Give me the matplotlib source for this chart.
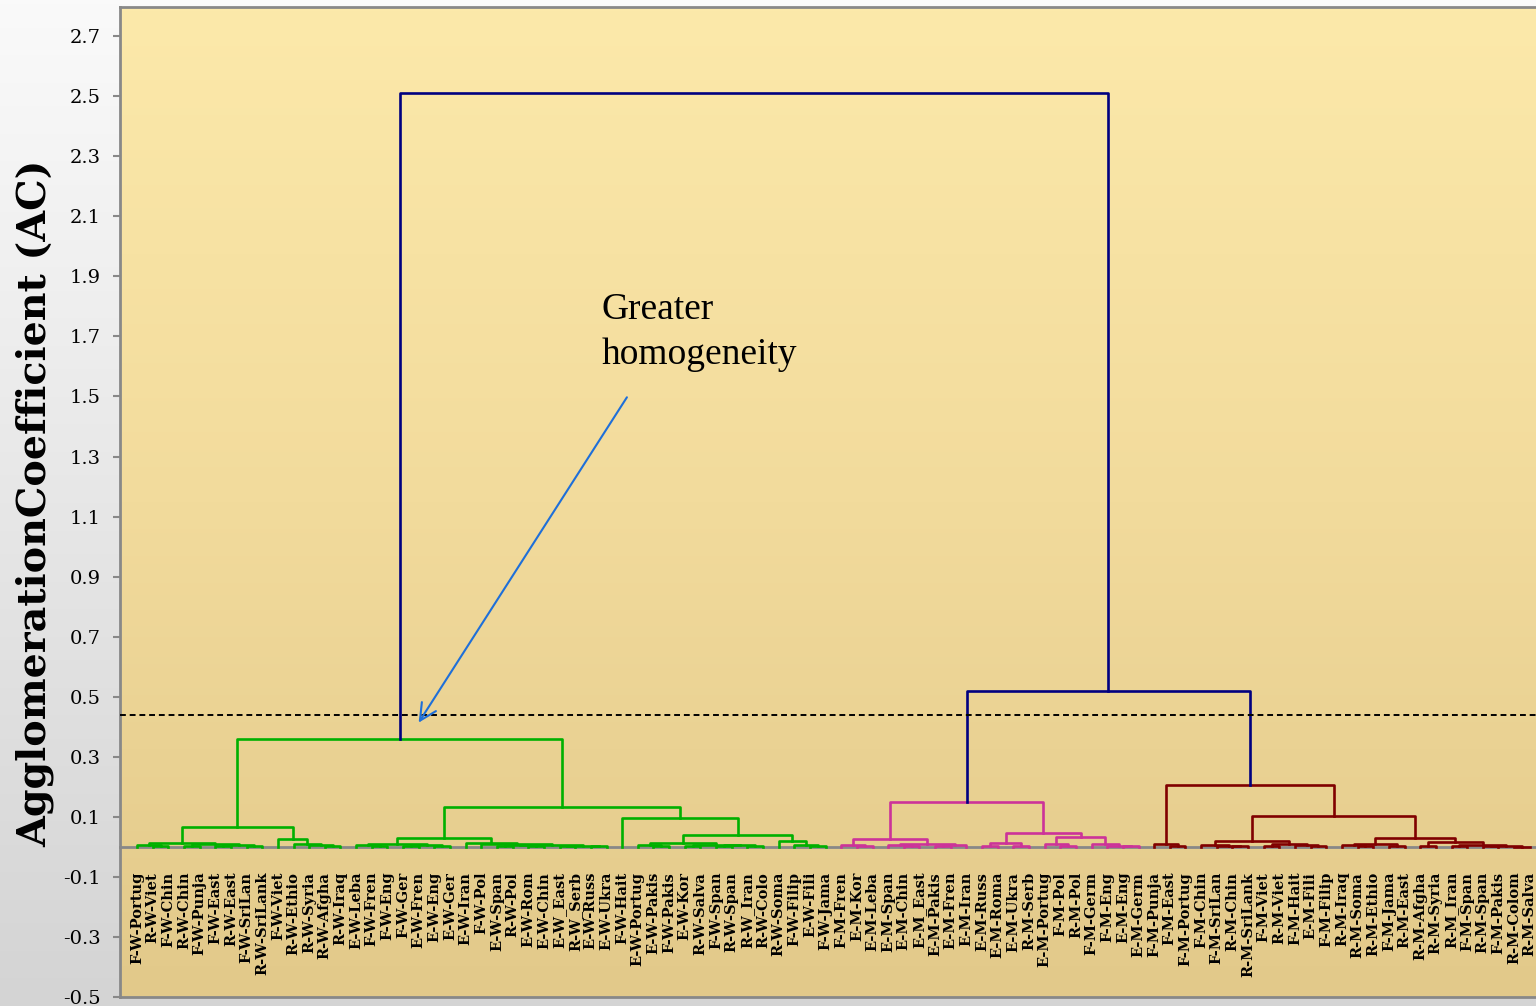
import numpy as np
import matplotlib.pyplot as plt
from matplotlib.colors import LinearSegmentedColormap

# leaf labels, left to right
leaves = ['F-W-Portug', 'R-W-Viet', 'F-W-Chin', 'R-W-Chin', 'F-W-Punja', 'F-W-East', 'R-W-East',
          'F-W-SriLan', 'R-W-SriLank', 'F-W-Viet', 'R-W-Ethio', 'R-W-Syria', 'R-W-Afgha', 'R-W-Iraq',
          'E-W-Leba', 'F-W-Fren', 'F-W-Eng', 'F-W-Ger', 'E-W-Fren', 'E-W-Eng', 'E-W-Ger', 'E-W-Iran',
          'F-W-Pol', 'E-W-Span', 'R-W-Pol', 'E-W-Rom', 'E-W-Chin', 'E-W_East', 'R-W_Serb', 'E-W-Russ',
          'E-W-Ukra', 'F-W-Hait', 'E-W-Portug', 'E-W-Pakis', 'F-W-Pakis', 'E-W-Kor', 'R-W-Salva',
          'F-W-Span', 'R-W-Span', 'R-W_Iran', 'R-W-Colo', 'R-W-Soma', 'F-W-Filip', 'E-W-Fili',
          'F-W-Jama', 'F-M-Fren', 'E-M-Kor', 'E-M-Leba', 'E-M-Span', 'E-M-Chin', 'E-M_East',
          'E-M-Pakis', 'E-M-Fren', 'E-M-Iran', 'E-M-Russ', 'E-M-Roma', 'E-M-Ukra', 'R-M-Serb',
          'E-M-Portug', 'F-M-Pol', 'R-M-Pol', 'F-M-Germ', 'F-M-Eng', 'E-M-Eng', 'E-M-Germ',
          'F-M-Punja', 'F-M-East', 'F-M-Portug', 'F-M-Chin', 'F-M-SriLan', 'R-M-Chin', 'R-M-SriLank',
          'F-M-Viet', 'R-M-Viet', 'F-M-Hait', 'E-M-Fili', 'F-M-Filip', 'R-M-Iraq', 'R-M-Soma',
          'R-M-Ethio', 'F-M-Jama', 'R-M-East', 'R-M-Afgha', 'R-M-Syria', 'R-M_Iran', 'F-M-Span',
          'R-M-Span', 'F-M-Pakis', 'R-M-Colom', 'R-M-Salva']

# merges: [left, right, height], ints are leaf indices
green_left = [[[0, [1, 2, 0.003], 0.007],
               [[3, 4, 0.004], [[5, 6, 0.002], [7, 8, 0.004], 0.006], 0.009], 0.013],
              [9, [10, [11, [12, 13, 0.002], 0.005], 0.009], 0.026], 0.066]
green_right = [[[[14, [15, 16, 0.002], 0.005], [[17, 18, 0.003], [19, 20, 0.002], 0.006], 0.010],
                [21, [22, [[[23, 24, 0.002], [25, 26, 0.003], 0.005],
                           [[27, 28, 0.002], [29, 30, 0.003], 0.004], 0.006], 0.009], 0.013], 0.030],
               [31, [[[32, [33, 34, 0.002], 0.005],
                      [[35, 36, 0.003], [[37, 38, 0.002], [39, 40, 0.003], 0.005], 0.007], 0.013],
                     [41, [42, [43, 44, 0.002], 0.005], 0.018], 0.039], 0.096], 0.133]
green = [green_left, green_right, 0.36]

pink = [[[45, [46, 47, 0.002], 0.006],
         [[48, [49, 50, 0.002], 0.005], [[51, 52, 0.003], 53, 0.006], 0.009], 0.026],
        [[[54, 55, 0.004], [56, 57, 0.003], 0.013],
         [[58, [59, 60, 0.003], 0.008], [61, [62, [63, 64, 0.002], 0.004], 0.009], 0.033], 0.047], 0.149]

dark_red = [[65, [66, 67, 0.003], 0.010],
            [[[68, [69, [70, 71, 0.002], 0.004], 0.006],
              [[72, 73, 0.003], [74, [75, 76, 0.002], 0.005], 0.008], 0.019],
             [[[77, [78, 79, 0.002], 0.005], [80, 81, 0.003], 0.010],
              [[82, 83, 0.004], [[84, 85, 0.002], [[86, 87, 0.003], [88, 89, 0.001], 0.004], 0.006], 0.015],
              0.031], 0.104], 0.206]

tree = [green, [pink, dark_red, 0.52], 2.51]

cluster_colors = ['#00B000', '#CC3399', '#800000']
top_color = '#000080'
color_threshold = 0.44

fig = plt.figure(figsize=(15.36, 10.06), dpi=100)

# grey figure background
bg = fig.add_axes([0, 0, 1, 1], zorder=-10)
bg.imshow(np.linspace(0, 1, 256).reshape(-1, 1),
          cmap=LinearSegmentedColormap.from_list('g', ['#FAFAFA', '#D4D4D4']),
          aspect='auto', extent=[0, 1, 0, 1], origin='upper')
bg.axis('off')

ax = fig.add_axes([120 / 1536, 9 / 1006, 1416 / 1536, 990 / 1006])
ax.imshow(np.linspace(0, 1, 256).reshape(-1, 1),
          cmap=LinearSegmentedColormap.from_list('y', ['#FCE9AA', '#F2DB9C', '#E2C98A']),
          aspect='auto', extent=[0, 1, 0, 1], transform=ax.transAxes, origin='upper', zorder=0)

color_idx = [0]


def draw(node, color=None):
    if isinstance(node, int):
        return node, 0.0
    left, right, h = node
    if color is None and h < color_threshold:
        color = cluster_colors[color_idx[0]]
        color_idx[0] += 1
    xl, hl = draw(left, color)
    xr, hr = draw(right, color)
    c = color if color is not None else top_color
    ax.plot([xl, xl, xr, xr], [hl, h, h, hr], color=c, lw=1.9, zorder=3)
    return (xl + xr) / 2, h


draw(tree)

ax.axhline(color_threshold, color='black', ls=(0, (3, 2)), lw=1.4, zorder=4)

ax.annotate('', xy=(17.9, 0.406), xytext=(31.4, 1.505),
            arrowprops=dict(arrowstyle='->', color='#1E6FD9', lw=1.5, mutation_scale=30), zorder=5)
ax.text(29.7, 1.847, 'Greater\nhomogeneity', fontsize=27, family='Liberation Serif',
        va='top', ha='left', linespacing=1.4)

ax.set_xlim(-1.09, 89.4)
ax.set_ylim(-0.5, 2.797)

# category axis crosses at zero
ax.spines['bottom'].set_position(('data', 0))
ax.spines['bottom'].set_color('#888888')
ax.spines['bottom'].set_linewidth(2)
ax.spines['bottom'].set_zorder(2)
ax.set_xticks(range(len(leaves)))
ax.set_xticklabels(leaves, rotation=90, family='DejaVu Serif', fontweight='bold', fontsize=10.5)
ax.tick_params(axis='x', length=0, pad=18)

yt = np.round(np.arange(-0.5, 2.71, 0.2), 1)
ax.set_yticks(yt)
ax.set_yticklabels([f'{v:.1f}' for v in yt], family='DejaVu Serif', fontsize=14)
ax.tick_params(axis='y', direction='out', length=5, width=1.5, color='#888888', pad=9)

ax.spines['left'].set_color('#888888')
ax.spines['left'].set_linewidth(2)
ax.spines['top'].set_visible(False)
ax.spines['right'].set_visible(False)
ax.plot([0, 1], [1, 1], transform=ax.transAxes, color='#888888', lw=2, clip_on=False)
ax.plot([0, 1], [0, 0], transform=ax.transAxes, color='#888888', lw=2, clip_on=False)

fig.text(35 / 1536, 0.5, 'AgglomerationCoefficient (AC)', rotation=90, fontsize=28.5,
         fontweight='bold', family='DejaVu Serif', ha='center', va='center')

fig.savefig('out.png', dpi=100)
